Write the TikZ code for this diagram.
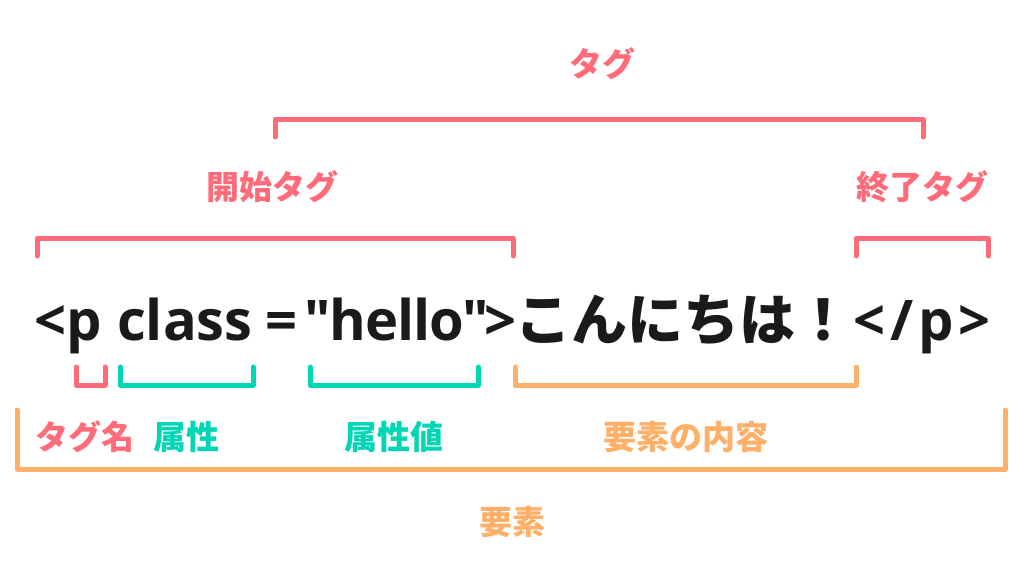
\documentclass[tikz,border=0pt]{standalone}
\usepackage{fontspec}
\setmainfont{Noto Sans CJK JP}
\newfontfamily\codefont{Open Sans}
\definecolor{tagred}{HTML}{FF6B78}
\definecolor{attrgreen}{HTML}{00D6B4}
\definecolor{bodyorange}{HTML}{FFB068}
\definecolor{ink}{HTML}{1A1A1A}
\tikzset{
  bracket/.style={line width=5pt, line cap=round, line join=round},
  lbl/.style={font=\fontsize{33}{36}\selectfont\bfseries, inner sep=0pt},
  code/.style={font=\fontsize{56}{60}\selectfont\codefont\bfseries, text=ink, inner sep=0pt, anchor=base west},
  codejp/.style={code, font=\fontsize{56}{60}\selectfont\bfseries}
}
\begin{document}
\begin{tikzpicture}[x=1pt,y=-1pt]
    \useasboundingbox (0,0) rectangle (1024,587);
    % the line of html
    \node[code] (lt) at (34,340) {<p};
    \node[code] (cls) at (117,340) {class};
    \node[code] (eq) at (265,340) {=};
    \node[code] (val) at (304,340) {\addfontfeature{LetterSpace=-2}\symbol{"22}hello\symbol{"22}};
    \node[code] (gt) at (484,340) {>};
    \node[codejp] (txt) at (515,340) {こんにちは！};
    \node[code] (close) at (853,340) {\addfontfeature{LetterSpace=9}</p>};
    % brackets above
    \draw[bracket, tagred] (275,137) -- (275,119) -- (923,119) -- (923,137);
    \draw[bracket, tagred] (37,256) -- (37,238) -- (513,238) -- (513,256);
    \draw[bracket, tagred] (856,256) -- (856,238) -- (988,238) -- (988,256);
    \node[lbl, tagred] (tag) at (602,64) {タグ};
    \node[lbl, tagred] (start) at (272,187) {開始タグ};
    \node[lbl, tagred] (end) at (922,187) {終了タグ};
    % brackets below
    \draw[bracket, tagred] (76,367) -- (76,385) -- (105,385) -- (105,367);
    \draw[bracket, attrgreen] (120,367) -- (120,385) -- (253,385) -- (253,367);
    \draw[bracket, attrgreen] (310,367) -- (310,385) -- (478,385) -- (478,367);
    \draw[bracket, bodyorange] (515,367) -- (515,385) -- (856,385) -- (856,367);
    \draw[bracket, bodyorange] (17,410) -- (17,469) -- (1005,469) -- (1005,410);
    \node[lbl, tagred] (tname) at (85,437) {タグ名};
    \node[lbl, attrgreen] (attr) at (186,437) {属性};
    \node[lbl, attrgreen] (aval) at (394,437) {属性値};
    \node[lbl, bodyorange] (content) at (686,437) {要素の内容};
    \node[lbl, bodyorange] (elem) at (512,522) {要素};
\end{tikzpicture}
\end{document}
